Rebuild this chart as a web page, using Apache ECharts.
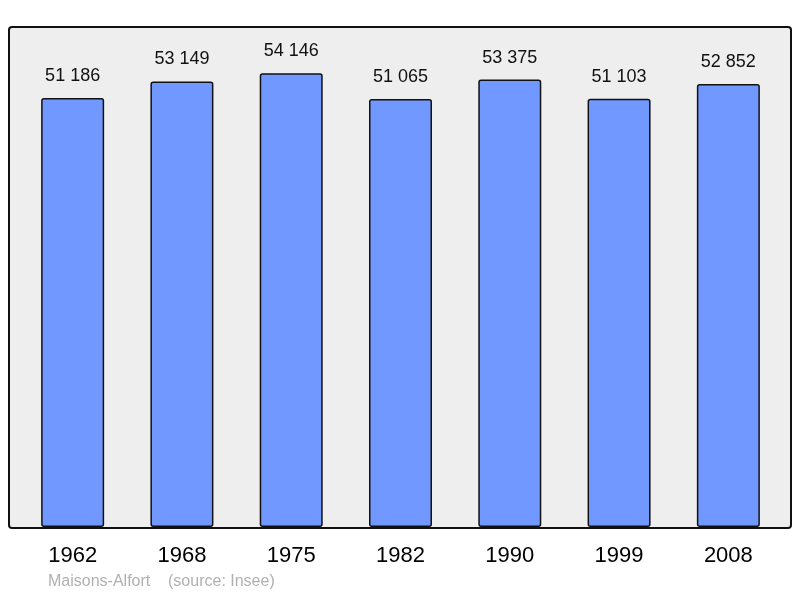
<!DOCTYPE html>
<html>
<head>
<meta charset="utf-8">
<script src="https://cdn.jsdelivr.net/npm/echarts@6/dist/echarts.min.js"></script>
<style>html,body{margin:0;padding:0;background:#fff}#c{width:800px;height:598px}</style>
</head>
<body>
<div id="c"></div>
<script>
// population figures
let years = ["1962", "1968", "1975", "1982", "1990", "1999", "2008"];
let population = [51186, 53149, 54146, 51065, 53375, 51103, 52852];
let caption = "Maisons-Alfort    (source: Insee)";

let chart = echarts.init(document.getElementById("c"));

function fmt(v) {
    return String(v).replace(/\B(?=(\d{3})+(?!\d))/g, " ");
}

chart.setOption({
    animation: false,
    graphic: [
        {
            type: "rect", z: -1,
            shape: { x: 9, y: 27, width: 782, height: 501, r: 3 },
            style: { fill: "#eeeeee", stroke: "#111", lineWidth: 2 }
        },
        {
            type: "text", left: 48, top: 574,
            style: { text: caption, fill: "#b0b0b0", fontSize: 16, fontFamily: "Liberation Sans" }
        }
    ],
    grid: { left: 18, width: 765, top: 27, bottom: 71 },
    xAxis: {
        type: "category",
        data: years,
        axisLine: { show: false },
        axisTick: { show: false },
        axisLabel: { color: "#000", fontSize: 22, fontFamily: "Liberation Sans", margin: 18 }
    },
    yAxis: {
        type: "value", min: 0, max: 59650,
        show: false, splitLine: { show: false }
    },
    series: [{
        type: "bar",
        data: population,
        barWidth: 63,
        itemStyle: { color: "#7098ff", borderColor: "#111", borderWidth: 1.5, borderRadius: 2 },
        label: {
            show: true, position: "top", distance: 13,
            color: "#111", fontSize: 18, fontFamily: "Liberation Sans",
            formatter: p => fmt(p.value)
        }
    }]
});
</script>
</body>
</html>
